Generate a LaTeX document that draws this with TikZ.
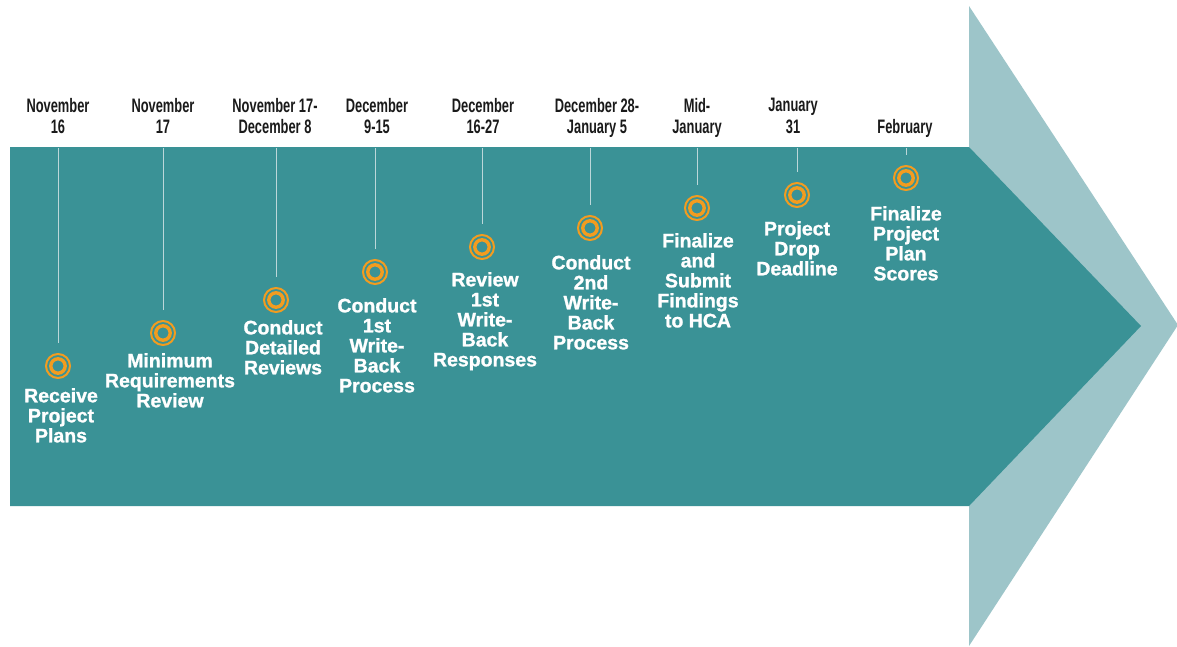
\documentclass[tikz,border=0pt]{standalone}
\usepackage{fontspec}
\setmainfont{Liberation Sans}
\newfontfamily\datefont[FakeStretch=0.66]{Liberation Sans}
\newfontfamily\descfont[FakeBold=1.2]{Liberation Sans}
\definecolor{darkteal}{HTML}{3A9296}
\definecolor{lightteal}{HTML}{9DC5C9}
\definecolor{ringorange}{HTML}{F39C1F}
\definecolor{datecol}{HTML}{1A1A1A}
\definecolor{stemcol}{HTML}{BCD7D9}
\tikzset{
  datelabel/.style={font=\datefont\bfseries\fontsize{19.5}{21.5}\selectfont, text=datecol, align=center, anchor=north, inner sep=0pt},
  desclabel/.style={font=\descfont\bfseries\fontsize{19.5}{20}\selectfont, text=white, align=center, anchor=north, inner sep=0pt},
  ring/.style={circle, draw=ringorange, line width=2pt, minimum size=24pt, inner sep=0pt},
  stem/.style={draw=stemcol, line width=0.8pt, shorten >=10pt}
}
\begin{document}
\begin{tikzpicture}[x=1pt,y=-1pt]
\useasboundingbox (0,0) rectangle (1177,646);
\fill[white] (0,0) rectangle (1177,646);
% arrows
\fill[lightteal] (969,6) -- (1178,325) -- (969,646) -- cycle;
\fill[darkteal] (10,147) -- (969,147) -- (1141,326) -- (969,506) -- (10,506) -- cycle;
% dates
\node[datelabel] (dt1) at (58,98) {November\\16};
\node[datelabel] (dt2) at (163,98) {November\\17};
\node[datelabel] (dt3) at (275,98) {November 17-\\December 8};
\node[datelabel] (dt4) at (377,98) {December\\9-15};
\node[datelabel] (dt5) at (483,98) {December\\16-27};
\node[datelabel] (dt6) at (597,98) {December 28-\\January 5};
\node[datelabel] (dt7) at (697,98) {Mid-\\January};
\node[datelabel] (dt8) at (793,98) {January\\31};
\node[datelabel] (dt9) at (905,119) {February};
% rings
\foreach \i/\x/\y in {1/58/366, 2/163/333, 3/276/300, 4/375/272, 5/482/247, 6/590/228, 7/697/208, 8/797/195, 9/906/178}{
  \node[ring] (c\i) at (\x,\y) {};
  \draw[ringorange, line width=3.4pt] (c\i.center) circle (7.2pt);
  \coordinate (s\i) at (\x,148);
  \draw[stem] (s\i) -- (c\i.north);
}
% descriptions
\node[desclabel] (d1) at (61,388) {Receive\\Project\\Plans};
\node[desclabel] (d2) at (170,353) {Minimum\\Requirements\\Review};
\node[desclabel] (d3) at (283,320) {Conduct\\Detailed\\Reviews};
\node[desclabel] (d4) at (377,298) {Conduct\\1st\\Write-\\Back\\Process};
\node[desclabel] (d5) at (485,272) {Review\\1st\\Write-\\Back\\Responses};
\node[desclabel] (d6) at (591,255) {Conduct\\2nd\\Write-\\Back\\Process};
\node[desclabel] (d7) at (698,233) {Finalize\\and\\Submit\\Findings\\to HCA};
\node[desclabel] (d8) at (797,221) {Project\\Drop\\Deadline};
\node[desclabel] (d9) at (906,206) {Finalize\\Project\\Plan\\Scores};
\end{tikzpicture}
\end{document}
